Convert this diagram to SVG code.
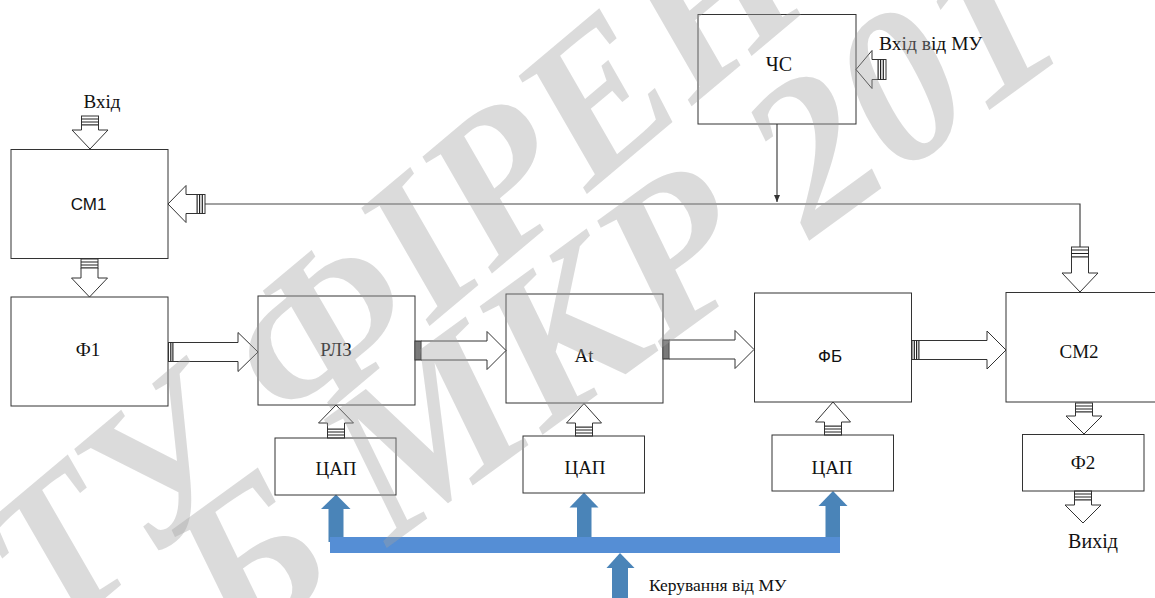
<svg xmlns="http://www.w3.org/2000/svg" width="1155" height="598" viewBox="0 0 1155 598">
<defs>
<style>
.box{fill:none;stroke:#333;stroke-width:1}
.ha{fill:#fff;stroke:#333;stroke-width:1;stroke-linejoin:miter}
.st{fill:#fff;stroke:#333;stroke-width:1}
.stl{stroke:#222;stroke-width:1.2}
.ln{fill:none;stroke:#444;stroke-width:1.2}
.ser{font-family:"Liberation Serif","Times New Roman",serif;fill:#111;text-anchor:middle}
.san{font-family:"Liberation Sans",Arial,sans-serif;fill:#111;text-anchor:middle}
.bar{fill:#558ed5}
.ba{fill:#4a84b8}
.wm{font-family:"Liberation Serif","Times New Roman",serif;font-style:italic;font-weight:bold;fill:#a0a0a0;fill-opacity:0.38}
</style>
<marker id="sa" markerWidth="8" markerHeight="8" refX="7" refY="3" orient="auto" markerUnits="userSpaceOnUse">
<path d="M0,0 L7,3 L0,6 Z" fill="#333"/>
</marker>
</defs>
<rect width="1155" height="598" fill="#fff"/>

<g id="connectors">
<polyline class="ln" points="205,204 1080,204 1080,247"/>
<line class="ln" x1="777" y1="124" x2="777" y2="202" marker-end="url(#sa)"/>
<g id="a-in"><rect class="st" x="81.5" y="116" width="17" height="9"/><path class="stl" d="M81.5,119H98.5M81.5,122H98.5"/><polygon class="ha" points="81.5,125 81.5,130 72,130 90,149 108,130 98.5,130 98.5,125"/></g>
<g id="a-cm1-f1"><rect class="st" x="81" y="259" width="17" height="9"/><path class="stl" d="M81,262H98M81,265H98"/><polygon class="ha" points="81,268 81,278 71.5,278 89.5,297 107.5,278 98,278 98,268"/></g>
<g id="a-cm2"><rect class="st" x="1071.5" y="247" width="17" height="10"/><path class="stl" d="M1071.5,250H1088.5M1071.5,253.5H1088.5"/><polygon class="ha" points="1071.5,257 1071.5,273 1062,273 1080,292 1098,273 1088.5,273 1088.5,257"/></g>
<g id="a-cm2-f2"><rect class="st" x="1075.5" y="403" width="17" height="9"/><path class="stl" d="M1075.5,406H1092.5M1075.5,409H1092.5"/><polygon class="ha" points="1075.5,412 1075.5,416 1066,416 1084,434 1102,416 1092.5,416 1092.5,412"/></g>
<g id="a-out"><rect class="st" x="1074.5" y="491" width="17" height="9"/><path class="stl" d="M1074.5,494H1091.5M1074.5,497H1091.5"/><polygon class="ha" points="1074.5,500 1074.5,505 1065,505 1083,523 1101,505 1091.5,505 1091.5,500"/></g>
<g id="a-dac1"><rect class="st" x="327.5" y="429" width="17" height="9"/><path class="stl" d="M327.5,432H344.5M327.5,435H344.5"/><polygon class="ha" points="327.5,429 327.5,423 318.5,423 336,405 353.5,423 344.5,423 344.5,429"/></g>
<g id="a-dac2"><rect class="st" x="575.5" y="427" width="17" height="9"/><path class="stl" d="M575.5,430H592.5M575.5,433H592.5"/><polygon class="ha" points="575.5,427 575.5,423 566.5,423 584,403.5 601.5,423 592.5,423 592.5,427"/></g>
<g id="a-dac3"><rect class="st" x="824.5" y="426" width="17" height="9"/><path class="stl" d="M824.5,429H841.5M824.5,432H841.5"/><polygon class="ha" points="824.5,426 824.5,422 815.5,422 833,402 850.5,422 841.5,422 841.5,426"/></g>
<g id="a-f1"><rect class="st" x="168.5" y="342.5" width="4.5" height="19"/><path class="stl" d="M170.8,342.5V361.5"/><polygon class="ha" points="173,342.5 238,342.5 238,332.5 258,352 238,371.5 238,361.5 173,361.5"/></g>
<g id="a-rlz"><rect class="st" x="415" y="341" width="6" height="19"/><path class="stl" d="M417,341V360M419,341V360"/><polygon class="ha" points="421,341 487,341 487,331.5 506,350.5 487,369.5 487,360 421,360"/></g>
<g id="a-at"><rect class="st" x="663" y="340" width="6" height="19"/><path class="stl" d="M665,340V359M667,340V359"/><polygon class="ha" points="669,340 735,340 735,330.5 754,349.5 735,368.5 735,359 669,359"/></g>
<g id="a-fb"><rect class="st" x="912" y="340.5" width="7" height="19"/><path class="stl" d="M914.3,340.5V359.5M916.6,340.5V359.5"/><polygon class="ha" points="919,340.5 987,340.5 987,331 1006,350 987,369 987,359.5 919,359.5"/></g>
<g id="a-cm1"><rect class="st" x="197" y="194.5" width="8" height="19"/><path class="stl" d="M199.6,194.5V213.5M202.3,194.5V213.5"/><polygon class="ha" points="197,194.5 186,194.5 186,185.5 168,204 186,222.5 186,213.5 197,213.5"/></g>
<g id="a-cs"><rect class="st" x="878" y="59.5" width="8" height="20"/><path class="stl" d="M880.6,59.5V79.5M883.3,59.5V79.5"/><polygon class="ha" points="878,59.5 872,59.5 872,50.5 856,69.5 872,88.5 872,79.5 878,79.5"/></g>
<g id="bus">
<rect class="ba" x="328.5" y="508" width="15" height="34"/>
<polygon class="ba" points="321,509 336,494.5 350.5,509"/>
<rect class="ba" x="577" y="507" width="14.5" height="34"/>
<polygon class="ba" points="569.5,507.5 584,492.5 598.5,507.5"/>
<rect class="ba" x="825.5" y="505" width="14.5" height="36"/>
<polygon class="ba" points="818.5,506 833,491 847.5,506"/>
<rect class="bar" x="330" y="537" width="510" height="16"/>
<rect class="ba" x="612" y="567" width="16" height="31"/>
<polygon class="ba" points="606.5,568 620,553 634.5,568"/>
</g>
</g>

<g id="n-cm1"><rect class="box" x="11" y="149.5" width="157" height="109"/><text class="san" x="88.5" y="210" font-size="17">СМ1</text></g>
<g id="n-f1"><rect class="box" x="11" y="297" width="157" height="109"/><text class="ser" x="88" y="356" font-size="19">Ф1</text></g>
<g id="n-rlz"><rect class="box" x="258" y="296" width="157" height="109"/><text class="ser" x="336" y="356" font-size="19">РЛЗ</text></g>
<g id="n-at"><rect class="box" x="506" y="294" width="157" height="109"/><text class="ser" x="584" y="362" font-size="19">At</text></g>
<g id="n-fb"><rect class="box" x="754.5" y="293" width="157" height="109"/><text class="san" x="830" y="362" font-size="17">ФБ</text></g>
<g id="n-cm2"><rect class="box" x="1006" y="292.5" width="157" height="109.5"/><text class="ser" x="1079" y="358" font-size="19">СМ2</text></g>
<g id="n-f2"><rect class="box" x="1022.5" y="434.5" width="121.5" height="56.5"/><text class="ser" x="1083" y="469" font-size="19">Ф2</text></g>
<g id="n-dac1"><rect class="box" x="275" y="438" width="121" height="57"/><text class="ser" x="336" y="475" font-size="19">ЦАП</text></g>
<g id="n-dac2"><rect class="box" x="523" y="436" width="121.5" height="57"/><text class="ser" x="585" y="474" font-size="19">ЦАП</text></g>
<g id="n-dac3"><rect class="box" x="772" y="435" width="121.5" height="56"/><text class="ser" x="832" y="474" font-size="19">ЦАП</text></g>
<g id="n-cs"><rect class="box" x="698" y="14.5" width="158" height="109.5"/><text class="ser" x="779" y="71" font-size="20">ЧС</text></g>

<g id="labels">
<text class="ser" x="102" y="108" font-size="19">Вхід</text>
<text class="ser" x="1093" y="548" font-size="20">Вихід</text>
<text class="ser" x="879" y="50" font-size="19.5" style="text-anchor:start">Вхід від МУ</text>
<text class="ser" x="649" y="591" font-size="17.5" style="text-anchor:start">Керування від МУ</text>
</g>

<g id="watermark">
<text class="wm" font-size="205" transform="translate(53,642) rotate(-40)">ТУ ФІРЕН</text>
<text class="wm" font-size="215" transform="translate(235,658) rotate(-36)">Б МКР 201</text>
</g>
</svg>
